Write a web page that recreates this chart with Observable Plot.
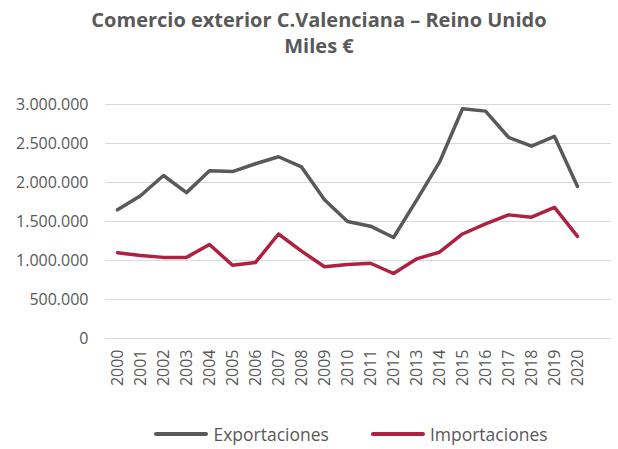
<!DOCTYPE html>
<html>
<head>
<meta charset="utf-8">
<script src="https://cdn.jsdelivr.net/npm/d3@7"></script>
<script src="https://cdn.jsdelivr.net/npm/@observablehq/plot@0.6"></script>
<style>
  html, body { margin: 0; padding: 0; background: #fff; }
  body { width: 618px; height: 449px; font-family: "Open Sans", sans-serif; color: #595959; overflow: hidden; }
  #title { text-align: center; font-weight: bold; font-size: 20px; line-height: 26px; padding-top: 7px; padding-left: 20px; height: 51px; }
  #chart svg { display: block; }
  #legend { display: flex; justify-content: center; align-items: center; margin-top: 23px; padding-left: 84px; height: 22px; font-size: 17.5px; }
  .item { display: flex; align-items: center; margin: 0 21px; }
  .swatch { width: 54px; height: 4px; border-radius: 2px; margin-right: 5px; }
</style>
</head>
<body>
<div id="title">Comercio exterior C.Valenciana – Reino Unido<br>Miles €</div>
<div id="chart"></div>
<div id="legend"></div>
<script>
const years = ["2000","2001","2002","2003","2004","2005","2006","2007","2008","2009","2010","2011","2012","2013","2014","2015","2016","2017","2018","2019","2020"];
const exportaciones = [1650000,1830000,2090000,1870000,2150000,2140000,2240000,2330000,2200000,1780000,1500000,1440000,1295000,1770000,2260000,2945000,2915000,2580000,2465000,2590000,1950000];
const importaciones = [1100000,1064000,1040000,1040000,1205000,940000,975000,1340000,1120000,920000,950000,965000,833000,1020000,1106000,1340000,1470000,1585000,1555000,1680000,1310000];
const yTicks = [0,500000,1000000,1500000,2000000,2500000,3000000];
const seriesNames = ["Exportaciones","Importaciones"];
const seriesColors = ["#595959","#AE2140"];

const data = [];
years.forEach((y, i) => {
  data.push({year: y, value: exportaciones[i], series: seriesNames[0]});
  data.push({year: y, value: importaciones[i], series: seriesNames[1]});
});

const fmt = d3.formatLocale({thousands: ".", grouping: [3], decimal: ","}).format(",d");

const chart = Plot.plot({
  width: 618,
  height: 342,
  marginTop: 46,
  marginBottom: 62,
  marginLeft: 105,
  marginRight: 7,
  style: {fontFamily: "Open Sans, sans-serif", fontSize: "16px", color: "#595959", background: "#fff"},
  x: {type: "point", domain: years, padding: 0, insetLeft: 12, insetRight: 34},
  y: {domain: [0, 3000000]},
  color: {domain: seriesNames, range: seriesColors},
  marks: [
    Plot.ruleY(yTicks, {stroke: "#d9d9d9", strokeWidth: 1}),
    Plot.axisY({ticks: yTicks, tickFormat: fmt, tickSize: 0, tickPadding: 17, label: null, fontSize: 16}),
    Plot.axisX({tickRotate: -90, tickSize: 0, tickPadding: 11, label: null, fontSize: 16}),
    Plot.line(data, {x: "year", y: "value", z: "series", stroke: "series", strokeWidth: 3.5, strokeLinejoin: "round", strokeLinecap: "round"})
  ]
});
document.getElementById("chart").appendChild(chart);

const legend = document.getElementById("legend");
seriesNames.forEach((name, i) => {
  const item = document.createElement("div");
  item.className = "item";
  const sw = document.createElement("div");
  sw.className = "swatch";
  sw.style.background = seriesColors[i];
  const label = document.createElement("span");
  label.textContent = name;
  item.appendChild(sw);
  item.appendChild(label);
  legend.appendChild(item);
});
</script>
</body>
</html>
